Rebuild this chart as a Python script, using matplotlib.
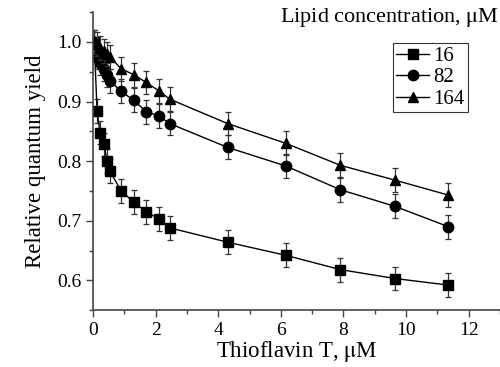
import numpy as np
import matplotlib
matplotlib.use('Agg')
import matplotlib.pyplot as plt
from matplotlib.ticker import MultipleLocator

plt.rcParams['font.family'] = ['Liberation Serif', 'DejaVu Serif']
plt.rcParams['mathtext.fontset'] = 'stix'

# Thioflavin T concentration, uM
tht = [0.04, 0.13, 0.22, 0.35, 0.45, 0.54, 0.9, 1.3, 1.7, 2.1, 2.45, 4.3, 6.15, 7.9, 9.65, 11.35]
# relative quantum yield per lipid concentration
y16 = [1.0, 0.884, 0.848, 0.828, 0.800, 0.783, 0.750, 0.731, 0.715, 0.703, 0.688, 0.664, 0.642, 0.618, 0.603, 0.592]
y82 = [1.0, 0.975, 0.965, 0.955, 0.945, 0.935, 0.917, 0.902, 0.883, 0.876, 0.863, 0.823, 0.792, 0.752, 0.724, 0.690]
y164 = [1.0, 0.996, 0.990, 0.985, 0.980, 0.975, 0.955, 0.945, 0.932, 0.918, 0.904, 0.863, 0.830, 0.793, 0.768, 0.743]
err = 0.02
labels = ['16', '82', '164']
markers = ['s', 'o', '^']

fig = plt.figure(figsize=(5, 3.67), dpi=100)
ax = fig.add_axes([0.186, 0.155, 0.814, 0.812])

for y, lab, m in zip([y16, y82, y164], labels, markers):
    ax.errorbar(tht, y, yerr=err, fmt='none', ecolor='#333333', elinewidth=0.9,
                capsize=2.5, capthick=0.9)
    ax.plot(tht, y, color='black', lw=1, marker=m, ms=7.5, label=lab)

ax.set_xlim(0, 13)
ax.set_ylim(0.55, 1.05)
ax.xaxis.set_major_locator(MultipleLocator(2))
ax.xaxis.set_minor_locator(MultipleLocator(1))
ax.yaxis.set_major_locator(MultipleLocator(0.1))
ax.yaxis.set_minor_locator(MultipleLocator(0.05))
ax.yaxis.set_major_formatter(matplotlib.ticker.FormatStrFormatter('%.1f'))
for s in ['top', 'right']:
    ax.spines[s].set_visible(False)
for s in ['left', 'bottom']:
    ax.spines[s].set_color('#444444')
    ax.spines[s].set_linewidth(1.2)
ax.tick_params(which='both', direction='out', color='#444444', labelsize=14)
ax.tick_params(which='major', length=5, width=1)
ax.tick_params(which='minor', length=3, width=1)

ax.set_xlabel('Thioflavin T, $\\mathrm{\\mu}$M', fontsize=16.5, labelpad=0)
ax.set_ylabel('Relative quantum yield', fontsize=16.5, labelpad=8)

leg = ax.legend(loc='upper right', bbox_to_anchor=(0.921, 0.896), fontsize=15,
                frameon=True, fancybox=False, handlelength=1.6, handletextpad=0.2,
                borderpad=0.15, labelspacing=0.1, borderaxespad=0)
leg.get_frame().set_edgecolor('black')
leg.get_frame().set_linewidth(0.8)

fig.text(0.998, 0.952, 'Lipid concentration, $\\mathrm{\\mu}$M', ha='right', va='center', fontsize=16)

fig.savefig('out.png', dpi=100)
